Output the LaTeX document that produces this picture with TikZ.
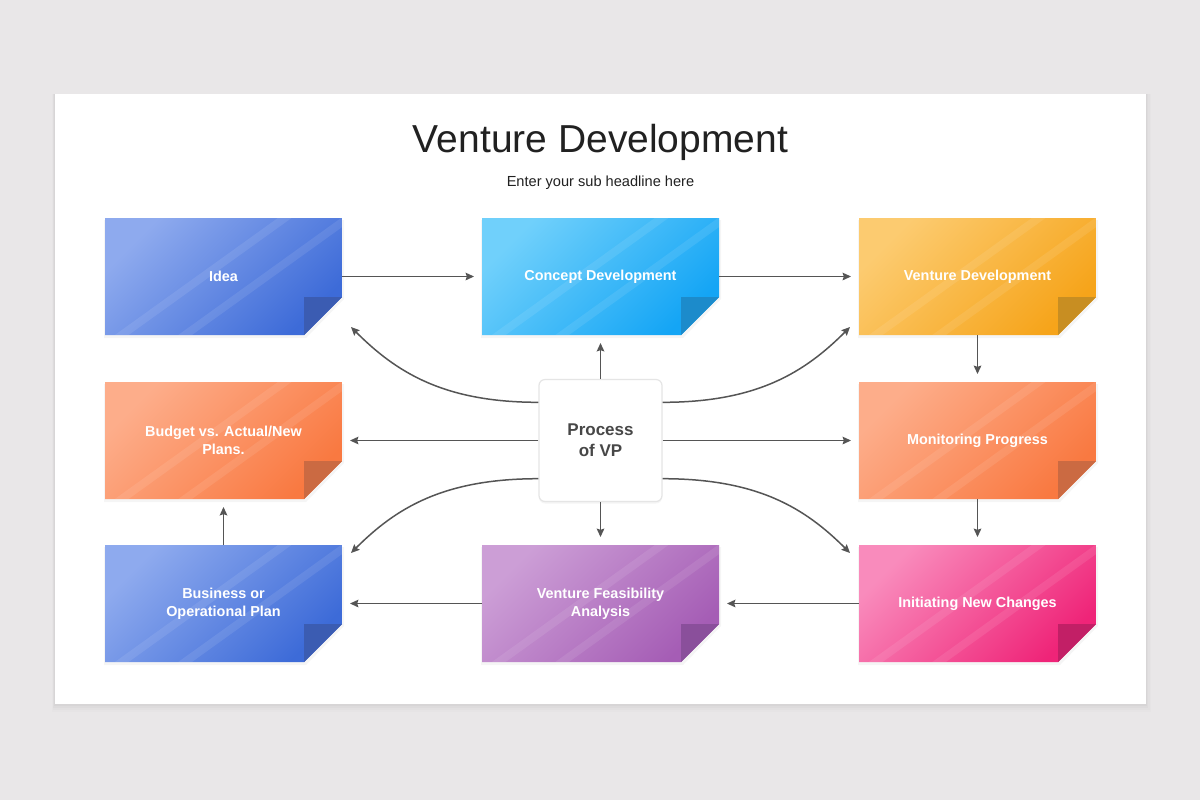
\documentclass[tikz,border=0pt]{standalone}
\usepackage{fontspec}
\setmainfont{Liberation Sans}
\usetikzlibrary{calc,arrows.meta,shadows}
\definecolor{pagebg}{HTML}{E9E7E8}
\definecolor{arrowc}{HTML}{555555}
\definecolor{blueA}{HTML}{8EAAEE}\definecolor{blueB}{HTML}{3D6BD8}\definecolor{blueF}{HTML}{3B5CB2}
\definecolor{cyanA}{HTML}{70D0FB}\definecolor{cyanB}{HTML}{14A5F5}\definecolor{cyanF}{HTML}{1C8BCB}
\definecolor{goldA}{HTML}{FCCB70}\definecolor{goldB}{HTML}{F6A41A}\definecolor{goldF}{HTML}{C88E22}
\definecolor{orA}{HTML}{FDAD8A}\definecolor{orB}{HTML}{F97941}\definecolor{orF}{HTML}{CB6A42}
\definecolor{puA}{HTML}{CC9ED6}\definecolor{puB}{HTML}{A55DB5}\definecolor{puF}{HTML}{8A4F9B}
\definecolor{piA}{HTML}{F98BBC}\definecolor{piB}{HTML}{EF2478}\definecolor{piF}{HTML}{C21F66}
\tikzset{
  notebox/.style={rectangle, inner sep=0pt, outer sep=0pt, minimum width=118.5pt, minimum height=58.5pt},
  notetext/.style={text=white, font=\bfseries\fontsize{7.2}{8.8}\selectfont, align=center},
  stripe/.style={white, opacity=0.09, line width=4pt},
  arr/.style={draw=arrowc, line width=0.75pt, -{Stealth[length=4.2pt,width=3.8pt,inset=0.6pt]}},
  gap/.style={shorten >=4pt},
  centerbox/.style={rectangle, rounded corners=3pt, draw=black!10, fill=white, line width=0.6pt,
    minimum width=61.5pt, minimum height=61pt, inner sep=0pt,
    text=black!72, font=\bfseries\fontsize{8.5}{10.4}\selectfont, align=center,
    drop shadow={opacity=0.08, shadow xshift=0pt, shadow yshift=-1pt}},
}
\newcommand\stickynote[7]{%
  \node[notebox] (#1) at (#2,#3) {};
  \fill[black, opacity=0.04] ($(#1.north west)+(-1,2)$) -- ($(#1.north east)+(2,2)$) -- ($(#1.south east)+(2,-36)$) -- ($(#1.south east)+(-36,3)$) -- ($(#1.south west)+(-1,3)$) -- cycle;
  \begin{scope}
    \path[clip] (#1.north west) -- (#1.north east) -- ($(#1.south east)+(0,-38)$) -- ($(#1.south east)+(-38,0)$) -- (#1.south west) -- cycle;
    \shade[top color=#4, bottom color=#5, shading angle=45] (#1.north west) rectangle (#1.south east);
    \draw[stripe] ($(#1.north west)+(0,129)$) -- ($(#1.north west)+(195,-11)$);
    \draw[stripe] ($(#1.north west)+(62,130)$) -- ($(#1.north west)+(254,-8)$);
  \end{scope}
  \fill[#6] ($(#1.south east)+(-38,-38)$) -- ($(#1.south east)+(0,-38)$) -- ($(#1.south east)+(-38,0)$) -- cycle;
  \node[notetext] at (#1) {#7};
}
\begin{document}
\begin{tikzpicture}[x=0.5pt,y=-0.5pt]
\useasboundingbox (0,0) rectangle (1200,800);
\fill[pagebg] (0,0) rectangle (1200,800);
% card shadow
\foreach \s/\o in {8/0.012,6/0.015,4/0.02,2/0.025}{
  \fill[black, opacity=\o] (55-\s*0.4,94) rectangle (1146+\s*0.6,704+\s);
}
\fill[white] (55,94) rectangle (1146,704);
% titles
\node[font=\fontsize{19.5}{23}\selectfont, text=black!87] (title) at (600.5,142) {Venture Development};
\node[font=\fontsize{7.3}{9}\selectfont, text=black!87] (sub) at (600.5,183) {Enter your sub headline here};
% notes
\stickynote{idea}{223.5}{276.5}{blueA}{blueB}{blueF}{Idea}
\stickynote{concept}{600.5}{276.5}{cyanA}{cyanB}{cyanF}{Concept Development}
\stickynote{venture}{977.5}{276.5}{goldA}{goldB}{goldF}{Venture Development}
\stickynote{budget}{223.5}{440.5}{orA}{orB}{orF}{Budget vs. Actual/New\\Plans.}
\stickynote{monitor}{977.5}{440.5}{orA}{orB}{orF}{Monitoring Progress}
\stickynote{business}{223.5}{603.5}{blueA}{blueB}{blueF}{Business or\\Operational Plan}
\stickynote{feas}{600.5}{603.5}{puA}{puB}{puF}{Venture Feasibility\\Analysis}
\stickynote{init}{977.5}{603.5}{piA}{piB}{piF}{Initiating New Changes}
% center
\node[centerbox] (vp) at (600.5,440.5) {Process\\of VP};
% straight connectors
\draw[arr,gap] (idea) -- (concept);
\draw[arr,gap] (concept) -- (venture);
\draw[arr,gap] (venture) -- (monitor);
\draw[arr,gap] (monitor) -- (init);
\draw[arr,gap] (init) -- (feas);
\draw[arr,gap] (feas) -- (business);
\draw[arr,gap] (business) -- (budget);
\draw[arr,gap] (vp) -- (concept);
\draw[arr,gap] (vp) -- (feas);
\draw[arr,gap] (vp) -- (budget);
\draw[arr,gap] (vp) -- (monitor);
% curved connectors
\coordinate (c1) at ($(idea.south east)+(9,-8)$);
\coordinate (c2) at ($(venture.south west)+(-9,-8)$);
\coordinate (c3) at ($(business.north east)+(9,8)$);
\coordinate (c4) at ($(init.north west)+(-9,8)$);
\draw[arr] ($(vp.north west)!0.19!(vp.south west)$) .. controls +(-95,0) and +(45,45) .. (c1);
\draw[arr] ($(vp.north east)!0.19!(vp.south east)$) .. controls +(95,0) and +(-45,45) .. (c2);
\draw[arr] ($(vp.north west)!0.81!(vp.south west)$) .. controls +(-95,0) and +(45,-45) .. (c3);
\draw[arr] ($(vp.north east)!0.81!(vp.south east)$) .. controls +(95,0) and +(-45,-45) .. (c4);
\end{tikzpicture}
\end{document}
